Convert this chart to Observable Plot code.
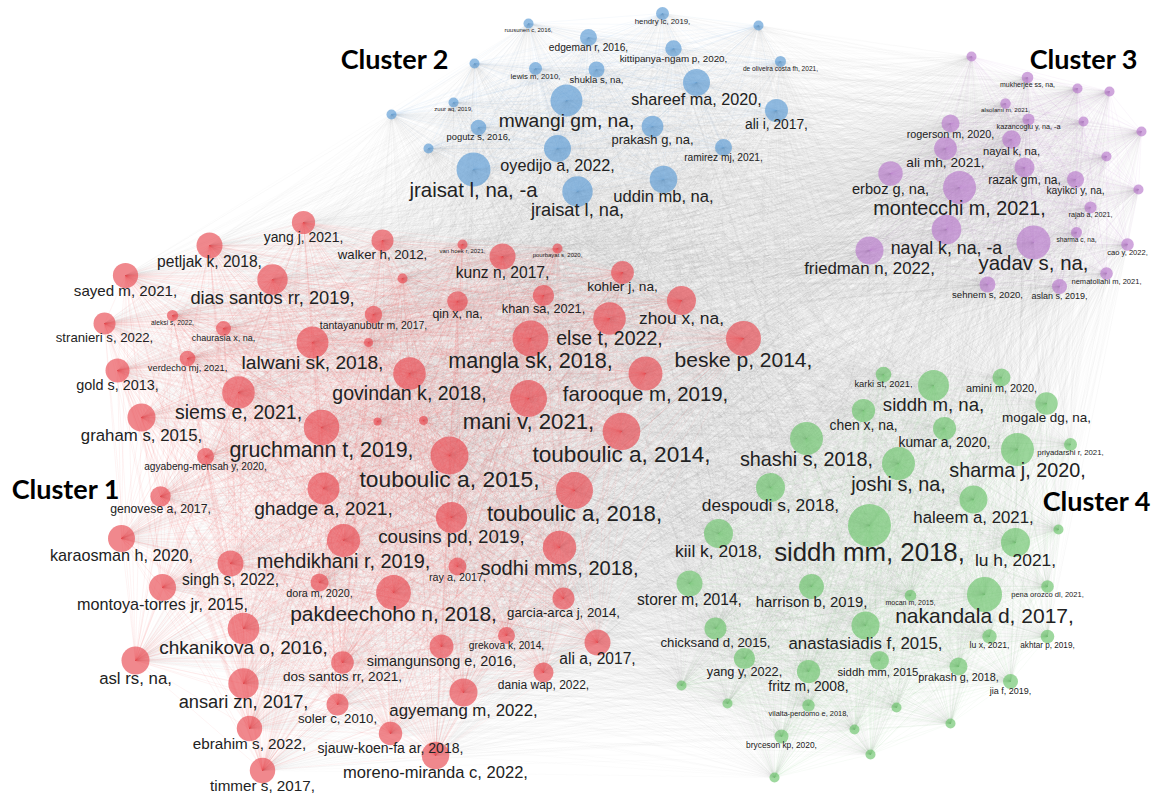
<!DOCTYPE html>
<html><head><meta charset="utf-8">
<script src="https://cdn.jsdelivr.net/npm/d3@7"></script>
<script src="https://cdn.jsdelivr.net/npm/@observablehq/plot@0.6"></script>
<style>html,body{margin:0;padding:0;background:#fff}#chart svg{display:block}</style>
</head><body><div id="chart"></div>
<script>
// Network map (VOSviewer layout coordinates): [label, layoutX, layoutY, weight]
const cluster1 = [
["yang j, 2021,",303,222,11.6],["petljak k, 2018,",209,245,13],["walker h, 2012,",382,240,11],
["van hoek r, 2021,",462,244,5],["kunz n, 2017,",502,256,13],["pourbayat s, 2020,",557,248,5],
["sayed m, 2021,",125,275,12.6],["dias santos rr, 2019,",272,279,15.2],["",402,278,5],
["kohler j, na,",622,272,11.4],["khan sa, 2021,",543,295,10.6],["qin x, na,",457,301,10.3],
["zhou x, na,",681,300,14.5],["stranieri s, 2022,",104,323,11],["aleksi s, 2022,",172,315,5.6],
["chaurasia x, na,",223,328,7.5],["tantayanubutr m, 2017,",373,314,8.7],["else t, 2022,",609,318,16.3],
["",368,342,4.5],["lalwani sk, 2018,",312,342,16],["mangla sk, 2018,",530,338,18],
["beske p, 2014,",743,338,17.5],["gold s, 2013,",117,370,12],["verdecho mj, 2021,",187,358,7.8],
["govindan k, 2018,",409,373,16.3],["farooque m, 2019,",645,373,17],["siems e, 2021,",238,392,16.3],
["mani v, 2021,",528,398,18.5],["graham s, 2015,",141,417,14],["gruchmann t, 2019,",321,427,17.8],
["",377,421,4],["",423,420,4.5],["touboulic a, 2014,",621,431,18.8],
["agyabeng-mensah y, 2020,",205,456,8.5],["touboulic a, 2015,",449,455,19],["genovese a, 2017,",160,496,10.2],
["ghadge a, 2021,",323,488,16],["touboulic a, 2018,",574,490,18.5],["cousins pd, 2019,",451,517,15.6],
["karaosman h, 2020,",121,538,13.5],["mehdikhani r, 2019,",343,540,16.6],["sodhi mms, 2018,",559,547,16.7],
["singh s, 2022,",230,563,13],["ray a, 2017,",457,566,9],["dora m, 2020,",319,582,9],
["montoya-torres jr, 2015,",162,587,13.5],["pakdeechoho n, 2018,",393,592,17.4],["garcia-arca j, 2014,",563,598,11],
["chkanikova o, 2016,",243,628,15.8],["grekova k, 2014,",506,635,8.5],["ali a, 2017,",597,642,13],
["simangunsong e, 2016,",441,646,12],["asl rs, na,",135,660,14],["dos santos rr, 2021,",342,662,11.3],
["dania wap, 2022,",543,672,10],["ansari zn, 2017,",243,683,15.2],["agyemang m, 2022,",463,692,14],
["soler c, 2010,",337,704,11],["ebrahim s, 2022,",249,728,12.7],["sjauw-koen-fa ar, 2018,",390,733,11.7],
["moreno-miranda c, 2022,",435,755,13.8],["timmer s, 2017,",262,770,12.7]
];
const cluster2 = [
["ruusunen c, 2016,",528,23,5],["hendry lc, 2019,",662,13,6.5],["",758,25,5],
["edgeman r, 2016,",588,37,8.5],["kittipanya-ngam p, 2020,",673,48,8.2],["",474,63,5],
["lewis m, 2010,",535,68,6.5],["shukla s, na,",596,69,8],["de oliveira costa fh, 2021,",780,61,5.5],
["shareef ma, 2020,",696,82,13.5],["mwangi gm, na,",566,100,16],["zuur aq, 2019,",453,102,5],
["",391,114,5],["ali i, 2017,",776,110,11.5],["pogutz s, 2016,",478,127,7.8],
["prakash g, na,",652,126,10.8],["oyedijo a, 2022,",557,148,13.5],["ramirez mj, 2021,",723,147,8.5],
["",428,148,5],["jraisat l, na, -a",473,169,17],["uddin mb, na,",663,179,13.8],
["jraisat l, na,",577,191,15.2]
];
const cluster3 = [
["",971,56,5],["mukherjee ss, na,",1027,77,5.8],["",1077,88,5],["",1109,91,5],
["alsolami m, 2021,",1005,103,5.2],["kazancoglu y, na, -a",1028,119,6],["",1083,121,5],
["rogerson m, 2020,",950,123,9],["",1141,131,5],["nayal k, na,",1011,139,9.3],
["ali mh, 2021,",945,148,11.4],["",1106,156,5],["erboz g, na,",890,173,12.2],
["razak gm, na,",1024,167,10],["montecchi m, 2021,",959,187,16.5],["kayikci y, na,",1075,179,8.6],
["",1138,189,5],["rajab a, 2021,",1090,207,6],["nayal k, na, -a",946,229,14.8],
["sharma c, na,",1076,232,5.5],["yadav s, na,",1033,242,17],["cao y, 2022,",1127,244,6.3],
["friedman n, 2022,",869,250,14],["nematollahi m, 2021,",1106,273,6.3],["sehnem s, 2020,",987,284,8],
["aslan s, 2019,",1059,286,7.5]
];
const cluster4 = [
["karki st, 2021,",883,374,7.8],["siddh m, na,",933,385,15.5],["amini m, 2020,",1001,377,9],
["chen x, na,",863,410,11.6],["mogale dg, na,",1046,403,11.2],["kumar a, 2020,",944,428,11.5],
["shashi s, 2018,",806,438,16.5],["sharma j, 2020,",1017,449,16.5],["priyadarshi r, 2021,",1070,444,6.5],
["joshi s, na,",898,463,16.5],["despoudi s, 2018,",770,487,14.5],["haleem a, 2021,",973,499,14],
["",1058,529,5],["siddh mm, 2018,",869,525,21.5],["kiil k, 2018,",718,533,14.5],
["lu h, 2021,",1015,542,14.5],["storer m, 2014,",689,583,13],["harrison b, 2019,",811,586,12.4],
["nakandala d, 2017,",984,594,17.5],["pena orozco dl, 2021,",1047,586,6.3],["mocan m, 2015,",910,595,5.8],
["chicksand d, 2015,",715,628,11],["anastasiadis f, 2015,",865,625,14],["lu x, 2021,",989,636,7.2],
["akhtar p, 2019,",1047,636,6.8],["yang y, 2022,",744,658,10.6],["siddh mm, 2015,",879,660,9.5],
["prakash g, 2018,",958,666,9],["fritz m, 2008,",808,671,11.6],["jia f, 2019,",1010,681,7.5],
["",681,685,5],["",727,703,5],["vilalta-perdomo e, 2018,",808,705,6.2],["",896,707,5],
["",854,729,5],["",950,723,5],["bryceson kp, 2020,",781,736,7],["",870,754,5],["",774,777,5]
];
const clusterNames = ["Cluster 1","Cluster 2","Cluster 3","Cluster 4"];
const clusterTitleAt = [[65,490],[394,60],[1083,60],[1096,502]];
const clusterColors = ["#e84b52","#5b9bd5","#b77acb","#6cc46c"];

const clusters = [cluster1, cluster2, cluster3, cluster4];
const nodes = clusters.flatMap((arr, c) => arr.map(([label, x, y, w]) => ({label, x, y, w, c})));
const links = [];
for (let i = 0; i < nodes.length; i++) for (let j = i + 1; j < nodes.length; j++) {
  const a = nodes[i], b = nodes[j];
  links.push({x1: a.x, y1: a.y, x2: b.x, y2: b.y, same: a.c === b.c, c: a.c});
}
const titles = clusterNames.map((t, i) => ({t, x: clusterTitleAt[i][0], y: clusterTitleAt[i][1]}));
const intraOpacity = [0.11, 0.09, 0.1, 0.09];

const marks = [
  Plot.link(links.filter(d => !d.same), {x1: "x1", y1: "y1", x2: "x2", y2: "y2", stroke: "#8c8c8c", strokeOpacity: 0.05, strokeWidth: 0.6})
];
clusters.forEach((_, c) => {
  marks.push(Plot.link(links.filter(d => d.same && d.c === c), {x1: "x1", y1: "y1", x2: "x2", y2: "y2", stroke: clusterColors[c], strokeOpacity: intraOpacity[c], strokeWidth: 0.6}));
});
clusters.forEach((_, c) => {
  marks.push(Plot.dot(nodes.filter(d => d.c === c), {x: "x", y: "y", r: "w", fill: clusterColors[c], fillOpacity: 0.66, stroke: "none"}));
});
marks.push(Plot.text(nodes.filter(d => d.label), {
  x: "x", y: d => d.y + d.w * 1.26, text: "label", fontSize: d => d.w * 1.2,
  fill: "#222", fontFamily: "'Liberation Sans', Arial, sans-serif", textAnchor: "middle", lineAnchor: "middle"
}));
marks.push(Plot.text(titles, {x: "x", y: "y", text: "t", fontSize: 27, fontWeight: "bold",
  fontFamily: "Lato, 'Open Sans', sans-serif", fill: "#000", textAnchor: "middle", lineAnchor: "middle"}));

const chart = Plot.plot({
  width: 1158, height: 796,
  margin: 0,
  x: {domain: [0, 1158], range: [0, 1158], axis: null},
  y: {domain: [0, 796], range: [0, 796], axis: null},
  r: {type: "linear", domain: [0, 20], range: [0, 20]},
  style: {background: "#fff"},
  marks
});
document.getElementById("chart").append(chart);
</script>
</body></html>
